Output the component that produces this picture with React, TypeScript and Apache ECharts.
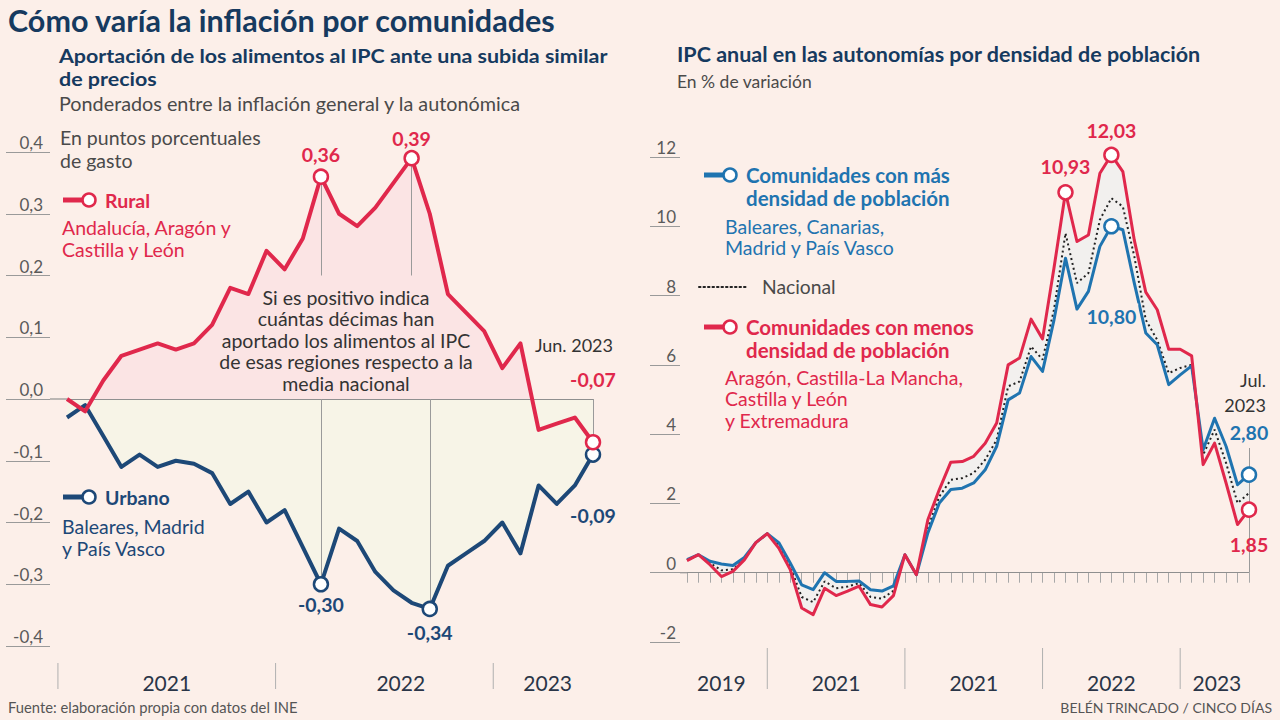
import React, { useEffect, useRef } from "react";
import * as echarts from "echarts";

// ---------- DATA ----------
const leftMonths = [
  "2021-01", "2021-02", "2021-03", "2021-04", "2021-05", "2021-06", "2021-07", "2021-08", "2021-09", "2021-10", "2021-11", "2021-12",
  "2022-01", "2022-02", "2022-03", "2022-04", "2022-05", "2022-06", "2022-07", "2022-08", "2022-09", "2022-10", "2022-11", "2022-12",
  "2023-01", "2023-02", "2023-03", "2023-04", "2023-05", "2023-06",
];
const ruralValues = [
  0.0, -0.02, 0.03, 0.07, 0.08, 0.09, 0.08, 0.09, 0.12, 0.18, 0.17, 0.24,
  0.21, 0.26, 0.36, 0.3, 0.28, 0.31, 0.35, 0.39, 0.3, 0.17, 0.14, 0.11,
  0.05, 0.09, -0.05, -0.04, -0.03, -0.07,
];
const urbanValues = [
  -0.03, -0.01, -0.06, -0.11, -0.09, -0.11, -0.1, -0.105, -0.12, -0.17, -0.15, -0.2,
  -0.18, -0.24, -0.3, -0.21, -0.23, -0.28, -0.31, -0.33, -0.34, -0.27, -0.25, -0.23,
  -0.2, -0.25, -0.14, -0.17, -0.14, -0.09,
];
const leftYTicks = { min: -0.4, max: 0.4, interval: 0.1 };
const leftYearLabels = ["2021", "2022", "2023"];

const rightMonths = [
  "2019-06", "2019-07", "2019-08", "2019-09", "2019-10", "2019-11", "2019-12",
  "2020-01", "2020-02", "2020-03", "2020-04", "2020-05", "2020-06", "2020-07", "2020-08", "2020-09", "2020-10", "2020-11", "2020-12",
  "2021-01", "2021-02", "2021-03", "2021-04", "2021-05", "2021-06", "2021-07", "2021-08", "2021-09", "2021-10", "2021-11", "2021-12",
  "2022-01", "2022-02", "2022-03", "2022-04", "2022-05", "2022-06", "2022-07", "2022-08", "2022-09", "2022-10", "2022-11", "2022-12",
  "2023-01", "2023-02", "2023-03", "2023-04", "2023-05", "2023-06", "2023-07",
];
const masDensidad = [
  0.38, 0.52, 0.33, 0.25, 0.21, 0.44, 0.87, 1.13, 0.87, 0.28, -0.35, -0.49, 0.0, -0.25, -0.25, -0.24, -0.49, -0.53, -0.38,
  0.52, -0.06, 1.15, 2.01, 2.4, 2.44, 2.59, 2.97, 3.65, 4.99, 5.19, 6.24,
  5.81, 7.3, 9.08, 7.61, 8.12, 9.42, 10.0, 9.9, 8.36, 6.92, 6.58, 5.43,
  5.71, 5.97, 3.55, 4.46, 3.65, 2.54, 2.83,
];
const nacional = [
  0.36, 0.52, 0.28, 0.07, 0.1, 0.4, 0.87, 1.13, 0.8, 0.18, -0.7, -0.85, -0.25, -0.45, -0.4, -0.3, -0.7, -0.75, -0.52,
  0.52, -0.06, 1.3, 2.2, 2.68, 2.73, 2.88, 3.26, 3.84, 5.38, 5.52, 6.53,
  6.15, 7.6, 9.8, 8.36, 8.65, 10.19, 10.81, 10.57, 9.13, 7.3, 6.72, 5.76,
  5.91, 6.0, 3.4, 4.13, 3.17, 2.01, 2.3,
];
const menosDensidad = [
  0.35, 0.52, 0.23, -0.11, 0.04, 0.37, 0.87, 1.13, 0.71, 0.09, -1.02, -1.21, -0.45, -0.66, -0.53, -0.39, -0.92, -0.99, -0.66,
  0.52, -0.06, 1.53, 2.4, 3.19, 3.21, 3.36, 3.74, 4.32, 6.0, 6.2, 7.32,
  6.75, 8.8, 10.98, 9.56, 9.75, 11.53, 12.06, 11.58, 9.6, 8.1, 7.59, 6.45,
  6.45, 6.26, 3.12, 3.74, 2.59, 1.39, 1.82,
];
const rightYTicks = { min: -2, max: 12, interval: 2 };
const rightYearLabels = ["2019", "2021", "2021", "2022", "2023"];

// callouts (index -> printed text)
const ruralCallouts = [
  { i: 14, text: "0,36" },
  { i: 19, text: "0,39" },
  { i: 29, text: "-0,07" },
];
const urbanCallouts = [
  { i: 14, text: "-0,30" },
  { i: 20, text: "-0,34" },
  { i: 29, text: "-0,09" },
];
const menosCallouts = [
  { i: 33, text: "10,93" },
  { i: 37, text: "12,03" },
  { i: 49, text: "1,85" },
];
const masCallouts = [
  { i: 37, text: "10,80" },
  { i: 49, text: "2,80" },
];

// ---------- STYLE ----------
const FONT = "Lato, 'Open Sans', sans-serif";
const BG = "#fcefe9";
const RED = "#e0284c";
const NAVY = "#1d4877";
const BLUE = "#1f74b0";
const TITLE = "#163a5f";
const GREY_TXT = "#4a4a4a";
const RULE = "#9a9a9a";

const labelPlacement: Record<string, { pos: string; dist: number }> = {
  "0,36": { pos: "top", dist: 4 },
  "0,39": { pos: "top", dist: 1 },
  "-0,07": { pos: "top", dist: 44 },
  "-0,30": { pos: "bottom", dist: 2 },
  "-0,34": { pos: "bottom", dist: 5 },
  "-0,09": { pos: "bottom", dist: 43 },
  "10,93": { pos: "top", dist: 8 },
  "12,03": { pos: "top", dist: 6 },
  "1,85": { pos: "bottom", dist: 17 },
  "10,80": { pos: "bottom", dist: 69 },
  "2,80": { pos: "top", dist: 21 },
};

function withCallouts(values: number[], callouts: { i: number; text: string }[], color: string, size: number, bgLabel = false) {
  return values.map((v, i) => {
    const c = callouts.find((k) => k.i === i);
    if (!c) return v;
    const p = labelPlacement[c.text];
    return {
      value: v,
      symbol: "circle",
      symbolSize: size,
      itemStyle: { color: "#ffffff", borderColor: color, borderWidth: 2.5 },
      label: {
        show: true,
        formatter: c.text,
        position: p.pos,
        distance: p.dist,
        color,
        fontWeight: "bold",
        fontSize: 19.5,
        fontFamily: FONT,
        backgroundColor: bgLabel ? BG : "transparent",
        padding: bgLabel ? [3, 2, 3, 2] : 0,
      },
    };
  });
}

const ruleLine = { color: RULE, width: 1, type: "solid" as const };

function buildOption(): any {
  const bandBase = masDensidad.map((b, i) => Math.min(b, menosDensidad[i]));
  const bandDiff = masDensidad.map((b, i) => Math.abs(menosDensidad[i] - b));
  const lm = (i: number) => leftMonths[i];
  const rm = (i: number) => rightMonths[i];

  return {
    animation: false,
    backgroundColor: BG,
    textStyle: { fontFamily: FONT },
    grid: [
      { left: 67, top: 152, width: 526, height: 494 },
      { left: 687, top: 157, width: 562, height: 485 },
    ],
    xAxis: [
      {
        type: "category", gridIndex: 0, data: leftMonths, boundaryGap: false, position: "bottom", offset: 4,
        axisLine: { show: false }, axisLabel: { show: false },
        axisTick: { show: true, interval: 0, length: 10, lineStyle: { color: "#a8a8a8", width: 1 } },
        splitLine: { show: false },
      },
      {
        type: "category", gridIndex: 1, data: rightMonths, boundaryGap: false, position: "bottom", offset: 8,
        axisLine: { show: false }, axisLabel: { show: false },
        axisTick: { show: true, interval: 0, length: 10, lineStyle: { color: "#a8a8a8", width: 1 } },
        splitLine: { show: false },
      },
    ],
    yAxis: [
      {
        type: "value", gridIndex: 0, ...leftYTicks, position: "left", offset: 17,
        axisLine: { show: false },
        axisTick: { show: true, length: 44, lineStyle: { color: RULE, width: 1 } },
        splitLine: { show: false },
        axisLabel: {
          show: true, margin: 7, align: "right", verticalAlign: "bottom", padding: [0, 0, 1, 0],
          color: "#5a5a5a", fontSize: 17, fontFamily: FONT,
          formatter: (v: number) => v.toFixed(1).replace(".", ","),
        },
      },
      {
        type: "value", gridIndex: 1, ...rightYTicks, position: "left", offset: 7,
        axisLine: { show: false },
        axisTick: { show: true, length: 30, lineStyle: { color: RULE, width: 1 } },
        splitLine: { show: false },
        axisLabel: {
          show: true, margin: 4, align: "right", verticalAlign: "bottom", padding: [0, 0, 1, 0],
          color: "#5a5a5a", fontSize: 17, fontFamily: FONT,
          formatter: (v: number) => String(v),
        },
      },
    ],
    series: [
      // ----- left panel areas -----
      {
        type: "line", name: "RuralArea", xAxisIndex: 0, yAxisIndex: 0, data: ruralValues,
        symbol: "none", lineStyle: { width: 0, opacity: 0 }, areaStyle: { color: "#fbe4e4", opacity: 1 },
        z: 1, silent: true, emphasis: { disabled: true },
        markLine: {
          silent: true, symbol: ["none", "none"], label: { show: false }, z: 2,
          lineStyle: ruleLine, emphasis: { disabled: true },
          data: [
            { yAxis: 0, lineStyle: { color: "#8f8f8f", width: 1.2 } },
            [{ coord: [lm(14), ruralValues[14]] }, { coord: [lm(14), 0.2] }],
            [{ coord: [lm(19), ruralValues[19]] }, { coord: [lm(19), 0.2] }],
            [{ coord: [lm(14), 0] }, { coord: [lm(14), urbanValues[14]] }],
            [{ coord: [lm(20), 0] }, { coord: [lm(20), urbanValues[20]] }],
            [{ coord: [lm(29), 0] }, { coord: [lm(29), urbanValues[29]] }],
          ],
        },
      },
      {
        type: "line", name: "UrbanArea", xAxisIndex: 0, yAxisIndex: 0, data: urbanValues,
        symbol: "none", lineStyle: { width: 0, opacity: 0 }, areaStyle: { color: "#f7f4e7", opacity: 1 },
        z: 1, silent: true, emphasis: { disabled: true },
      },
      // ----- left panel lines -----
      {
        type: "line", name: "Urbano", xAxisIndex: 0, yAxisIndex: 0,
        data: withCallouts(urbanValues, urbanCallouts, NAVY, 14),
        symbol: "none", showAllSymbol: true, color: NAVY, clip: false,
        lineStyle: { width: 4, color: NAVY, join: "round" }, z: 3, emphasis: { disabled: true },
      },
      {
        type: "line", name: "Rural", xAxisIndex: 0, yAxisIndex: 0,
        data: withCallouts(ruralValues, ruralCallouts, RED, 14),
        symbol: "none", showAllSymbol: true, color: RED, clip: false,
        lineStyle: { width: 4, color: RED, join: "round" }, z: 4, emphasis: { disabled: true },
      },
      // ----- right panel band -----
      {
        type: "line", name: "bandBase", xAxisIndex: 1, yAxisIndex: 1, data: bandBase,
        stack: "band", stackStrategy: "all", symbol: "none",
        lineStyle: { width: 0, opacity: 0 }, z: 1, silent: true, emphasis: { disabled: true },
        markLine: {
          silent: true, symbol: ["none", "none"], label: { show: false }, z: 2,
          lineStyle: ruleLine, emphasis: { disabled: true },
          data: [
            { yAxis: 0, lineStyle: { color: "#8f8f8f", width: 1.2 } },
            [{ coord: [rm(37), menosDensidad[37]] }, { coord: [rm(37), 0] }],
            [{ coord: [rm(49), 0] }, { coord: [rm(49), 3.6] }],
          ],
        },
      },
      {
        type: "line", name: "bandDiff", xAxisIndex: 1, yAxisIndex: 1, data: bandDiff,
        stack: "band", stackStrategy: "all", symbol: "none",
        lineStyle: { width: 0, opacity: 0 }, areaStyle: { color: "#f2f0ee", opacity: 1 },
        z: 1, silent: true, emphasis: { disabled: true },
      },
      // ----- right panel lines -----
      {
        type: "line", name: "Nacional", xAxisIndex: 1, yAxisIndex: 1, data: nacional,
        symbol: "none", color: "#222",
        lineStyle: { width: 2, color: "#222222", type: [2, 3] }, z: 3, emphasis: { disabled: true },
      },
      {
        type: "line", name: "Más densidad", xAxisIndex: 1, yAxisIndex: 1,
        data: withCallouts(masDensidad, masCallouts, BLUE, 14, true),
        symbol: "none", showAllSymbol: true, color: BLUE, clip: false,
        lineStyle: { width: 3, color: BLUE, join: "round" }, z: 4, emphasis: { disabled: true },
      },
      {
        type: "line", name: "Menos densidad", xAxisIndex: 1, yAxisIndex: 1,
        data: withCallouts(menosDensidad, menosCallouts, RED, 14),
        symbol: "none", showAllSymbol: true, color: RED, clip: false,
        lineStyle: { width: 3, color: RED, join: "round" }, z: 5, emphasis: { disabled: true },
      },
    ],
  };
}

function txt(text: string, x: number, y: number, size: number, color: string, weight = "normal", align = "left", lineHeight?: number, scaleX = 1) {
  return {
    type: "text", x, y, scaleX, silent: true, z: 50,
    style: {
      text, fill: color, font: `${weight} ${size}px ${FONT}`,
      align, verticalAlign: "middle", textAlign: align, textVerticalAlign: "middle",
      lineHeight,
    },
  };
}
function seg(x1: number, y1: number, x2: number, y2: number, color: string, width: number, dash?: number[]) {
  return {
    type: "line", silent: true, z: 40,
    shape: { x1, y1, x2, y2 },
    style: { stroke: color, lineWidth: width, lineDash: dash, lineCap: dash ? "round" : "butt" },
  };
}
function ring(cx: number, cy: number, color: string) {
  return { type: "circle", silent: true, z: 45, shape: { cx, cy, r: 6.5 }, style: { fill: "#ffffff", stroke: color, lineWidth: 2.5 } };
}

export default function App() {
  const ref = useRef<HTMLDivElement>(null);
  useEffect(() => {
    document.body.style.margin = "0";
    const chart = echarts.init(ref.current!, null, { renderer: "svg", width: 1280, height: 720 });
    chart.setOption(buildOption());

    const L0 = chart.convertToPixel({ gridIndex: 0 }, [0, 0]) as number[];
    const L1 = chart.convertToPixel({ gridIndex: 0 }, [1, 0]) as number[];
    const R0 = chart.convertToPixel({ gridIndex: 1 }, [0, 0]) as number[];
    const R1 = chart.convertToPixel({ gridIndex: 1 }, [1, 0]) as number[];
    const lx = (i: number) => L0[0] + (L1[0] - L0[0]) * i;
    const rx = (i: number) => R0[0] + (R1[0] - R0[0]) * i;

    const g: any[] = [];
    // titles
    g.push(txt("Cómo varía la inflación por comunidades", 8, 20, 30.5, TITLE, "bold"));
    g.push(txt("Aportación de los alimentos al IPC ante una subida similar\nde precios", 59, 66.5, 19.5, TITLE, "bold", "left", 23, 1.1));
    g.push(txt("Ponderados entre la inflación general y la autonómica", 59, 103, 19.8, GREY_TXT));
    g.push(txt("En puntos porcentuales\nde gasto", 60, 148.5, 19.5, GREY_TXT, "normal", "left", 23));
    g.push(txt("IPC anual en las autonomías por densidad de población", 677, 54, 21.5, TITLE, "bold"));
    g.push(txt("En % de variación", 677, 81, 17.5, GREY_TXT));

    // left legend
    g.push(seg(63, 200, 84, 200, RED, 5));
    g.push(ring(89, 200, RED));
    g.push(txt("Rural", 105, 200, 19.5, RED, "bold"));
    g.push(txt("Andalucía, Aragón y\nCastilla y León", 62, 238, 19.5, RED, "normal", "left", 22));
    g.push(seg(63, 497, 84, 497, NAVY, 5));
    g.push(ring(89, 497, NAVY));
    g.push(txt("Urbano", 105, 497, 19.5, NAVY, "bold"));
    g.push(txt("Baleares, Madrid\ny País Vasco", 62, 537.5, 19.5, NAVY, "normal", "left", 21.5));

    // annotation
    g.push(txt(
      "Si es positivo indica\ncuántas décimas han\naportado los alimentos al IPC\nde esas regiones respecto a la\nmedia nacional",
      346, 340.2, 19.5, "#333333", "normal", "center", 21.6));
    g.push(txt("Jun. 2023", lx(29) + 20, 345, 18, "#333333", "normal", "right"));

    // right legend
    g.push(seg(704, 175, 725, 175, BLUE, 5));
    g.push(ring(730, 175, BLUE));
    g.push(txt("Comunidades con más\ndensidad de población", 746, 186.5, 20.5, BLUE, "bold", "left", 23));
    g.push(txt("Baleares, Canarias,\nMadrid y País Vasco", 725, 236.5, 19.5, BLUE, "normal", "left", 21));
    g.push(seg(699, 287, 748, 287, "#222222", 2, [1.5, 3]));
    g.push(txt("Nacional", 762, 286, 19.3, GREY_TXT));
    g.push(seg(704, 327, 725, 327, RED, 5));
    g.push(ring(730, 327, RED));
    g.push(txt("Comunidades con menos\ndensidad de población", 746, 338.5, 20.5, RED, "bold", "left", 23));
    g.push(txt("Aragón, Castilla-La Mancha,\nCastilla y León\ny Extremadura", 725, 398.5, 19.5, RED, "normal", "left", 21.5));
    g.push(txt("Jul.\n2023", rx(49) + 17, 392.5, 18, "#333333", "normal", "right", 25));

    // zero-line bridges (axis line to first category)
    g.push(seg(L0[0] - 17, L0[1], L0[0], L0[1], "#8f8f8f", 1.2));
    g.push(seg(R0[0] - 7, R0[1], R0[0], R0[1], "#8f8f8f", 1.2));

    // year dividers and labels
    [-0.5, 11.5, 23.5].forEach((i) => g.push(seg(lx(i), 663, lx(i), 689, "#b0b0b0", 1)));
    [5.5, 18.4, 26.5].forEach((i, k) => g.push(txt(leftYearLabels[k], lx(i), 682, 21, "#2a3547", "normal", "center")));
    [7, 19, 31, 43].forEach((i) => g.push(seg(rx(i), 648, rx(i), 689, "#b0b0b0", 1)));
    [3, 13, 25, 37, 46.2].forEach((i, k) => g.push(txt(rightYearLabels[k], rx(i), 682, 21, "#2a3547", "normal", "center")));

    // footer
    g.push(txt("Fuente: elaboración propia con datos del INE", 8, 707, 14.75, "#555555"));
    g.push(txt("BELÉN TRINCADO / CINCO DÍAS", 1272, 707, 14, "#555555", "normal", "right"));

    chart.setOption({ graphic: g });
    return () => chart.dispose();
  }, []);
  return <div ref={ref} style={{ width: 1280, height: 720, position: "absolute", left: 0, top: 0 }} />;
}
